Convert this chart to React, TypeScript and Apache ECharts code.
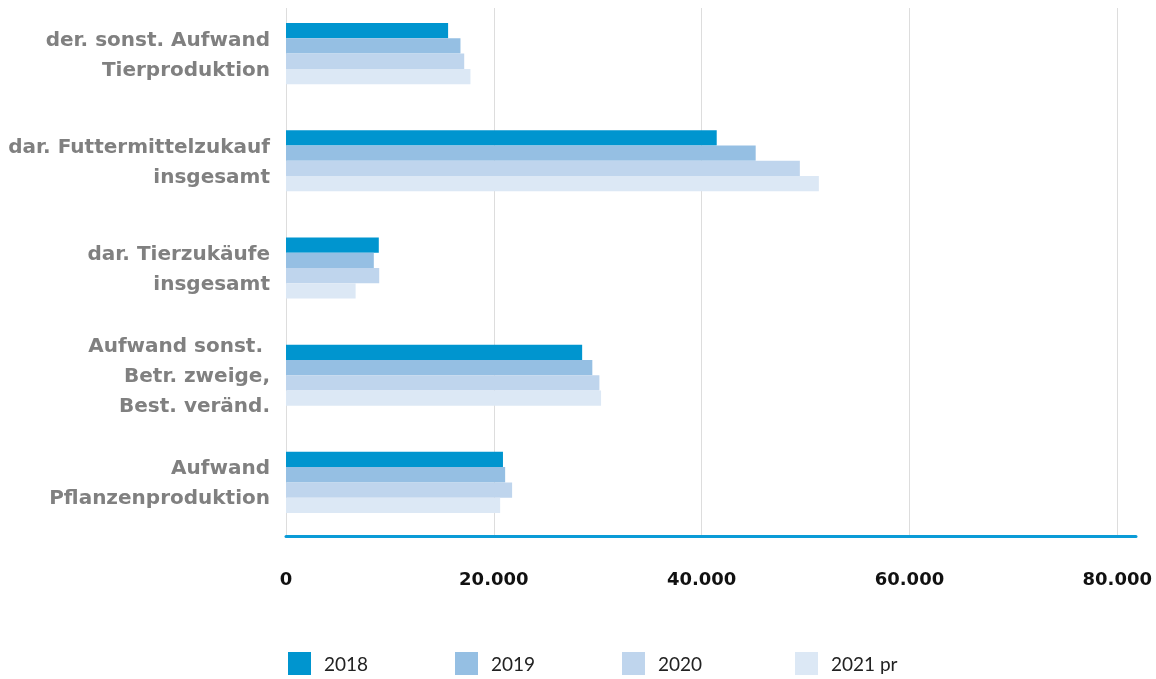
import React, { useEffect, useRef } from "react";
import * as echarts from "echarts";

const categories = [
  "der. sonst. Aufwand\nTierproduktion",
  "dar. Futtermittelzukauf\ninsgesamt",
  "dar. Tierzukäufe\ninsgesamt",
  "Aufwand sonst. \nBetr. zweige,\nBest. veränd.",
  "Aufwand\nPflanzenproduktion",
];
const seriesNames = ["2018", "2019", "2020", "2021 pr"];
const values2018 = [15600, 41450, 8930, 28500, 20880];
const values2019 = [16790, 45200, 8450, 29480, 21090];
const values2020 = [17150, 49450, 8970, 30160, 21760];
const values2021 = [17750, 51280, 6700, 30320, 20610];
const colors = ["#0095cf", "#95bfe3", "#bfd5ed", "#dce8f5"];

export default function App() {
  const ref = useRef<HTMLDivElement>(null);
  useEffect(() => {
    if (!ref.current) return;
    const chart = echarts.init(ref.current, null, { renderer: "svg" });
    const allValues = [values2018, values2019, values2020, values2021];
    const legendLefts = [288, 455, 622, 795];
    const option: any = {
      animation: false,
      grid: [
        { left: 286, right: 20, top: -3, bottom: 143, containLabel: false },
        { left: 286, right: 20, top: 8, bottom: 143, containLabel: false, z: 0 },
      ],
      xAxis: [
        {
          type: "value",
          gridIndex: 0,
          min: 0,
          max: 81800,
          interval: 20000,
          axisLine: { show: true, lineStyle: { color: "#0b9bd7", width: 3 } },
          axisTick: { show: false },
          splitLine: { show: false },
          axisLabel: {
            showMaxLabel: false,
            margin: 33,
            color: "#111",
            fontWeight: "bold",
            fontSize: 18,
            fontFamily: "DejaVu Sans",
            formatter: (v: number) => (v === 0 ? "0" : v.toLocaleString("de-DE")),
          },
          z: 5,
        },
        {
          type: "value",
          gridIndex: 1,
          min: 0,
          max: 81800,
          interval: 20000,
          axisLine: { show: false },
          axisTick: { show: false },
          axisLabel: { show: false },
          splitLine: {
            show: true,
            showMinLine: true,
            showMaxLine: false,
            lineStyle: { color: "#dddddd", width: 1 },
          },
          z: 0,
        },
      ],
      yAxis: [
        {
          type: "category",
          gridIndex: 0,
          inverse: true,
          data: categories,
          axisLine: { show: false },
          axisTick: { show: false },
          axisLabel: {
            margin: 16,
            color: "#808080",
            fontWeight: "bold",
            fontSize: 20,
            lineHeight: 30,
            fontFamily: "DejaVu Sans",
            align: "right",
          },
        },
        {
          type: "value",
          gridIndex: 1,
          show: false,
          splitLine: { show: false },
        },
      ],
      legend: seriesNames.map((n, i) => ({
        data: [n],
        left: legendLefts[i],
        top: 652,
        icon: "rect",
        itemWidth: 23,
        itemHeight: 23,
        padding: 0,
        textStyle: {
          color: "#222",
          fontSize: 19,
          fontFamily: "Lato",
          padding: [0, 0, 0, 8],
        },
      })),
      series: seriesNames.map((n, i) => ({
        name: n,
        type: "bar",
        xAxisIndex: 0,
        yAxisIndex: 0,
        data: allValues[i],
        barGap: "0%",
        barCategoryGap: "43%",
        itemStyle: { color: colors[i] },
        z: 3,
      })),
    };
    chart.setOption(option);
    return () => chart.dispose();
  }, []);
  return (
    <div
      ref={ref}
      style={{ position: "fixed", left: 0, top: 0, width: 1156, height: 679 }}
    />
  );
}
